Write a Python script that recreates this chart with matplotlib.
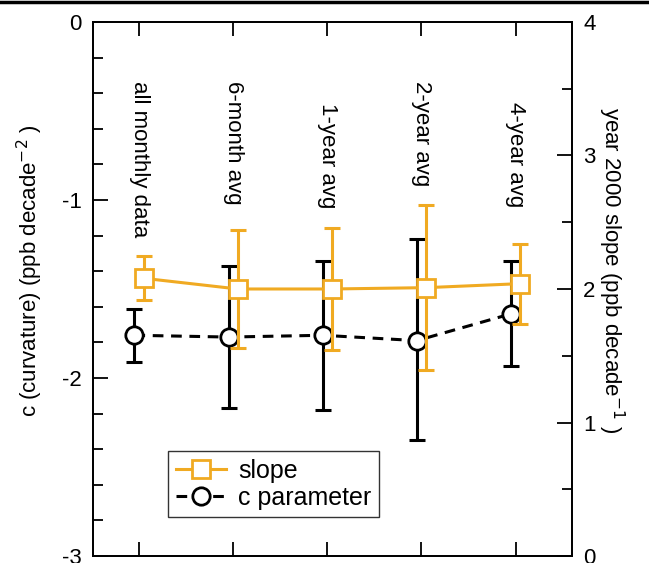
import matplotlib
matplotlib.use("Agg")
import matplotlib.pyplot as plt
from matplotlib.ticker import MultipleLocator
from matplotlib.lines import Line2D

plt.rcParams['font.family'] = ['Liberation Sans', 'DejaVu Sans']
plt.rcParams['axes.unicode_minus'] = False

categories = ["all monthly data", "6-month avg", "1-year avg", "2-year avg", "4-year avg"]
label_top = [-0.33, -0.33, -0.455, -0.33, -0.45]

# c parameter (left axis), with error bar ends
c_val = [-1.76, -1.77, -1.76, -1.79, -1.64]
c_hi = [-1.61, -1.37, -1.34, -1.22, -1.34]
c_lo = [-1.91, -2.17, -2.18, -2.35, -1.93]

# year 2000 slope (right axis), with error bar ends
s_val = [2.08, 2.00, 2.00, 2.01, 2.04]
s_hi = [2.25, 2.44, 2.46, 2.63, 2.34]
s_lo = [1.92, 1.56, 1.54, 1.39, 1.74]

orange = '#F0AA22'
x = list(range(1, len(categories) + 1))
xc = [v - 0.05 for v in x]
xs = [v + 0.05 for v in x]

fig = plt.figure(figsize=(6.49, 5.63), dpi=100)
ax = fig.add_axes([0.1433, 0.0124, 0.7381, 0.9486])
ax2 = ax.twinx()

c_err = [[v - l for v, l in zip(c_val, c_lo)], [h - v for v, h in zip(c_val, c_hi)]]
s_err = [[v - l for v, l in zip(s_val, s_lo)], [h - v for v, h in zip(s_val, s_hi)]]

ax.errorbar(xc, c_val, yerr=c_err, fmt='none', ecolor='black', elinewidth=2.2,
            capsize=6, capthick=2.2, zorder=2)
ax.plot(xc, c_val, color='black', linestyle=(0, (3.5, 2.5)), linewidth=2.2,
        marker='o', markersize=12.5, markerfacecolor='white', markeredgecolor='black',
        markeredgewidth=2, zorder=3)

ax2.errorbar(xs, s_val, yerr=s_err, fmt='none', ecolor=orange, elinewidth=2.2,
             capsize=6, capthick=2.2, zorder=2)
ax2.plot(xs, s_val, color=orange, linewidth=2.2, marker='s', markersize=12.5,
         markerfacecolor='white', markeredgecolor=orange, markeredgewidth=2, zorder=3)

for xi, name, yt in zip(x, categories, label_top):
    ax.text(xi, yt, name, rotation=-90, ha='center', va='top', fontsize=16)

ax.set_xlim(0.51, 5.6)
ax.set_ylim(-3, 0)
ax2.set_ylim(0, 4)

ax.set_xticks(x)
ax.set_xticklabels([])
ax.tick_params(axis='x', which='major', direction='in', length=10, width=1.3,
               top=True, bottom=True)
ax.yaxis.set_major_locator(MultipleLocator(1))
ax.yaxis.set_minor_locator(MultipleLocator(0.2))
ax.tick_params(axis='y', which='major', direction='in', length=11, width=1.3, labelsize=16, pad=8)
ax.tick_params(axis='y', which='minor', direction='in', length=7, width=1.3)
ax2.yaxis.set_major_locator(MultipleLocator(1))
ax2.yaxis.set_minor_locator(MultipleLocator(0.5))
ax2.tick_params(axis='y', which='major', direction='in', length=11, width=1.3, labelsize=16, pad=8)
ax2.tick_params(axis='y', which='minor', direction='in', length=7, width=1.3)

for a in (ax, ax2):
    for sp in a.spines.values():
        sp.set_linewidth(1.3)

ax.set_ylabel(r'c (curvature) (ppb decade$^{-2}$ )', fontsize=16, labelpad=12)
ax2.set_ylabel(r'year 2000 slope (ppb decade$^{-1}$ )', fontsize=16, rotation=-90, labelpad=22)
ax.yaxis.label.set_y(0.535)
ax2.yaxis.label.set_y(0.535)

handles = [
    Line2D([], [], color=orange, linewidth=2.2, marker='s', markersize=12.5,
           markerfacecolor='white', markeredgecolor=orange, markeredgewidth=2),
    Line2D([], [], color='black', linestyle=(0, (3.5, 2.5)), linewidth=2.2, marker='o',
           markersize=12.5, markerfacecolor='white', markeredgecolor='black', markeredgewidth=2),
]
leg = ax.legend(handles, ['slope', 'c parameter'], loc='lower left',
                bbox_to_anchor=(0.157, 0.073), fontsize=18, frameon=True, fancybox=False,
                edgecolor='black', handlelength=2.0, handletextpad=0.5,
                borderpad=0.3, labelspacing=0.12, borderaxespad=0)
leg.get_frame().set_linewidth(1.0)

fig.add_artist(Line2D([0, 1], [0.997, 0.997], color='black', linewidth=2.5,
                      transform=fig.transFigure))

fig.savefig("out.png", dpi=100)
